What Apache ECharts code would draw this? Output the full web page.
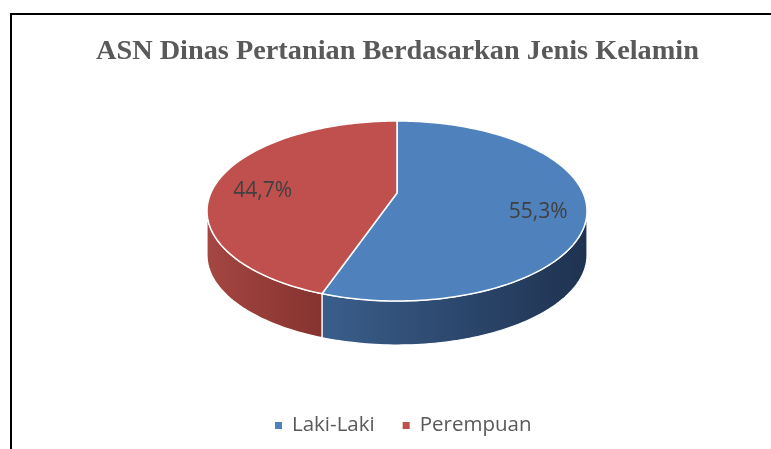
<!DOCTYPE html>
<html>
<head>
<meta charset="utf-8">
<script src="https://cdn.jsdelivr.net/npm/echarts@6/dist/echarts.min.js"></script>
<style>
  html, body { margin: 0; padding: 0; background: #fff; overflow: hidden; }
  #frame { position: absolute; left: 10px; top: 13px; width: 800px; height: 500px; border: 2px solid #000; box-sizing: border-box; }
  #main { position: absolute; left: 0; top: 0; width: 771px; height: 449px; }
</style>
</head>
<body>
<div id="frame"></div>
<div id="main"></div>
<script>
var titleText = 'ASN Dinas Pertanian Berdasarkan Jenis Kelamin';
var categories = ['Laki-Laki', 'Perempuan'];
var shares = [55.3, 44.7];
var topColors = ['#4F81BD', '#C0504D'];
var sideColors = [['#3A5E8B', '#1F3250'], ['#A54642', '#85332F']];

var chart = echarts.init(document.getElementById('main'));

// ellipse of the top face + a bit of perspective (p)
var cx = 397, cy = 211, rx = 190, ry = 90, depth = 44, p = 0.2;
var v0 = p / (1 - p * p);
var total = 0;
for (var i = 0; i < shares.length; i++) total += shares[i];

// point on the disk (r = 0..1, a = angle clockwise from 12 o'clock)
function proj(a, r, dy) {
    var X = r * Math.sin(a), Z = -r * Math.cos(a);
    var w = 1 - p * Z;
    var ue = X / w * Math.sqrt(1 - p * p);
    var ve = (Z / w - v0) * (1 - p * p);
    return [cx + rx * ue, cy + ry * ve + (dy || 0)];
}

function arc(a0, a1, dy) {
    var pts = [];
    var n = Math.max(2, Math.ceil((a1 - a0) / 0.02));
    for (var k = 0; k <= n; k++) {
        pts.push(proj(a0 + (a1 - a0) * k / n, 1, dy));
    }
    return pts;
}

function renderSlice(params, api) {
    var idx = params.seriesIndex;
    var a0 = api.value(0) / total * Math.PI * 2;
    var a1 = api.value(1) / total * Math.PI * 2;
    var children = [];

    // front side, between the two silhouette points
    var lim = Math.acos(-p);
    var s = Math.max(a0, lim), e = Math.min(a1, Math.PI * 2 - lim);
    if (s < e) {
        var side = arc(s, e, 0).concat(arc(s, e, depth).reverse());
        children.push({
            type: 'polygon',
            shape: { points: side },
            style: {
                fill: new echarts.graphic.LinearGradient(0, 0, 1, 0, [
                    { offset: 0, color: sideColors[idx][0] },
                    { offset: 1, color: sideColors[idx][1] }
                ]),
                stroke: '#fff',
                lineWidth: 1.2
            }
        });
    }

    // top face
    var top = [proj(0, 0, 0)].concat(arc(a0, a1, 0));
    children.push({
        type: 'polygon',
        shape: { points: top },
        style: { fill: topColors[idx], stroke: '#fff', lineWidth: 1.5 }
    });

    // label
    var mid = (a0 + a1) / 2;
    var lp = proj(mid, 0.75, 8);
    var pct = (api.value(1) - api.value(0)) / total * 100;
    children.push({
        type: 'text',
        x: lp[0],
        y: lp[1],
        style: {
            text: pct.toFixed(1).replace('.', ',') + '%',
            fill: '#404040',
            font: '21px "Open Sans"',
            align: 'center',
            verticalAlign: 'middle'
        }
    });

    return { type: 'group', children: children };
}

var series = [];
var acc = 0;
for (var j = 0; j < categories.length; j++) {
    series.push({
        type: 'custom',
        name: categories[j],
        coordinateSystem: 'none',
        itemStyle: { color: topColors[j] },
        renderItem: renderSlice,
        data: [[acc, acc + shares[j]]],
        silent: true
    });
    acc += shares[j];
}

var option = {
    animation: false,
    title: {
        text: titleText,
        left: 91,
        top: 33,
        textStyle: {
            fontFamily: '"Liberation Serif"',
            fontWeight: 'bold',
            fontSize: 28.3,
            color: '#595959'
        }
    },
    legend: {
        data: categories,
        left: 270,
        top: 410,
        icon: 'rect',
        itemWidth: 7,
        itemHeight: 7,
        itemGap: 28,
        textStyle: {
            fontFamily: '"Open Sans"',
            fontSize: 20.5,
            color: '#595959',
            padding: [0, 0, 0, 5]
        }
    },
    series: series
};

chart.setOption(option);
</script>
</body>
</html>
